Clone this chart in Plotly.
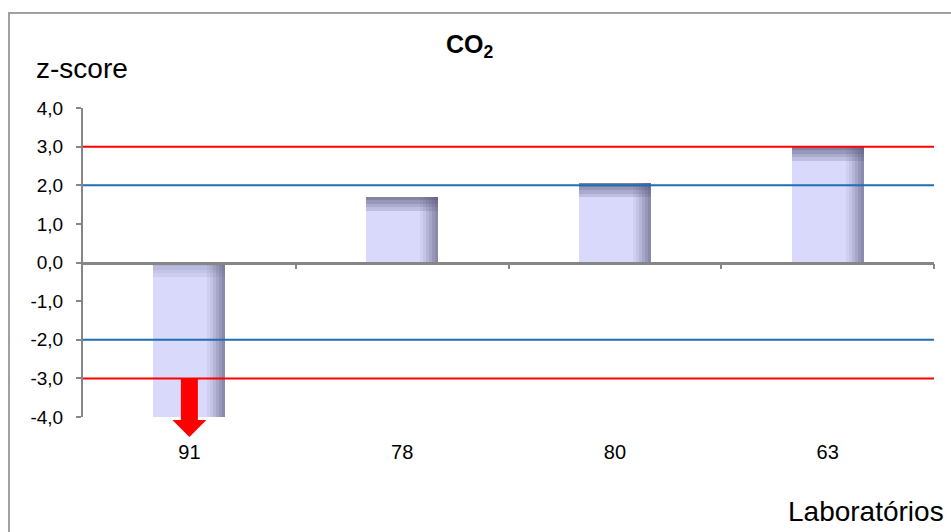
import plotly.graph_objects as go

# ---- data ----
laboratorios = ["91", "78", "80", "63"]
z_scores = [-4.0, 1.7, 2.05, 3.0]
y_tick_vals = [4, 3, 2, 1, 0, -1, -2, -3, -4]
y_tick_text = ["4,0", "3,0", "2,0", "1,0", "0,0", "-1,0", "-2,0", "-3,0", "-4,0"]
limite_aviso = [2.0, -2.0]      # blue lines
limite_acao = [3.0, -3.0]       # red lines
y_min, y_max = -4.0, 4.0

# ---- layout geometry (pixels) ----
W, H = 951, 532
ML, MR, MT, MB = 83, 17, 108, 115
PW, PH = W - ML - MR, H - MT - MB
ncat = len(laboratorios)
x_per_px = ncat / PW
y_per_px = (y_max - y_min) / PH


def px_x(p):
    return (p - ML) / PW


def px_y(p):
    return (H - MB - p) / PH


FONT = "Liberation Sans, Arial, sans-serif"
xs = list(range(ncat))
bar_w = 72 * x_per_px
base_col = "#D9D9FB"
shade = "85,85,120"

fig = go.Figure()

# base bars
fig.add_trace(go.Bar(x=xs, y=z_scores, width=bar_w, offset=-bar_w / 2,
                     marker=dict(color=base_col, line=dict(width=0)),
                     hoverinfo="skip", showlegend=False))

# top shading bands (gradient)
top_alphas = [0.65, 0.5, 0.35, 0.2]
strip_h = 3.5 * y_per_px
for i, a in enumerate(top_alphas):
    bases, heights = [], []
    for v in z_scores:
        top = max(v, 0)
        bases.append(top - (i + 1) * strip_h)
        heights.append(strip_h)
    alphas = [a if v > 0 else a * 0.45 for v in z_scores]
    fig.add_trace(go.Bar(x=xs, y=heights, base=bases, width=bar_w, offset=-bar_w / 2,
                         marker=dict(color=[f"rgba({shade},{al})" for al in alphas], line=dict(width=0)),
                         hoverinfo="skip", showlegend=False))

# right shading bands (gradient)
right_alphas = [0.08, 0.16, 0.27, 0.38, 0.5, 0.6]
strip_w = 3 * x_per_px
for i, a in enumerate(right_alphas):
    off = bar_w / 2 - (len(right_alphas) - i) * strip_w
    fig.add_trace(go.Bar(x=xs, y=z_scores, width=strip_w, offset=off,
                         marker=dict(color=f"rgba({shade},{a})", line=dict(width=0)),
                         hoverinfo="skip", showlegend=False))

# invisible trace to carry the zero-line category axis
fig.add_trace(go.Scatter(x=[xs[0]], y=[0], xaxis="x2", mode="markers",
                         marker=dict(opacity=0), hoverinfo="skip", showlegend=False))

shapes = []
for v in limite_acao:
    shapes.append(dict(type="line", xref="paper", yref="y", x0=0, x1=1, y0=v, y1=v,
                       line=dict(color="#FF0000", width=2), layer="above"))
for v in limite_aviso:
    shapes.append(dict(type="line", xref="paper", yref="y", x0=0, x1=1, y0=v, y1=v,
                       line=dict(color="#1F6DB3", width=2), layer="above"))

# red arrows for values truncated at the axis minimum
shaft_hw = 8.5 * x_per_px
head_hw = 17 * x_per_px
for xi, v in zip(xs, z_scores):
    if v <= y_min:
        y_top = (min(limite_acao) - y_min) / (y_max - y_min)
        y_head = px_y(H - MB + 3)
        y_tip = px_y(H - MB + 20)
        path = (f"M {xi - shaft_hw},{y_top} L {xi + shaft_hw},{y_top} L {xi + shaft_hw},{y_head} "
                f"L {xi + head_hw},{y_head} L {xi},{y_tip} L {xi - head_hw},{y_head} "
                f"L {xi - shaft_hw},{y_head} Z")
        shapes.append(dict(type="path", xref="x", yref="paper", path=path,
                           fillcolor="#FF0000", line=dict(width=0), layer="above"))

# outer chart border
shapes.append(dict(type="rect", xref="paper", yref="paper",
                   x0=px_x(9), x1=px_x(W + 5), y0=px_y(13), y1=px_y(H + 5),
                   line=dict(color="#A0A0A0", width=2), layer="above"))

zero_pos = (0 - y_min) / (y_max - y_min)

fig.update_layout(
    width=W, height=H,
    margin=dict(l=ML, r=MR, t=MT, b=MB),
    paper_bgcolor="white", plot_bgcolor="white",
    barmode="overlay", bargap=0,
    font=dict(family=FONT, color="#000000", size=19),
    shapes=shapes,
    xaxis=dict(range=[-0.5, ncat - 0.5], tickvals=xs, ticktext=laboratorios,
               showgrid=False, zeroline=False, showline=False, ticks="",
               ticklabelstandoff=21, tickfont=dict(size=20, family=FONT), fixedrange=True),
    xaxis2=dict(range=[-0.5, ncat - 0.5], overlaying="x", anchor="free", position=zero_pos,
                showgrid=False, zeroline=False, showline=True, linecolor="#868686", linewidth=2.5,
                ticks="outside", ticklen=5, tickwidth=2, tickcolor="#868686",
                tickvals=[i + 0.5 for i in xs], showticklabels=False, fixedrange=True),
    yaxis=dict(range=[y_min, y_max], tickvals=y_tick_vals, ticktext=y_tick_text,
               showgrid=False, zeroline=False, showline=True, linecolor="#868686", linewidth=2,
               ticks="outside", ticklen=5, tickwidth=2, tickcolor="#868686",
               ticklabelstandoff=9, tickfont=dict(size=19, family=FONT), fixedrange=True),
    annotations=[
        dict(text="<b>CO<sub>2</sub></b>", xref="paper", yref="paper", x=px_x(470), y=px_y(46),
             xanchor="center", yanchor="middle", showarrow=False, font=dict(size=25, family=FONT)),
        dict(text="z-score", xref="paper", yref="paper", x=px_x(34), y=px_y(68),
             xanchor="left", yanchor="middle", showarrow=False, font=dict(size=28, family=FONT)),
        dict(text="Laboratórios", xref="paper", yref="paper", x=px_x(946), y=px_y(511),
             xanchor="right", yanchor="middle", showarrow=False, font=dict(size=28, family=FONT)),
    ],
)

fig.write_html("out.html", config={"displayModeBar": False},
               post_script="document.body.style.margin='0';document.body.style.padding='0';")
